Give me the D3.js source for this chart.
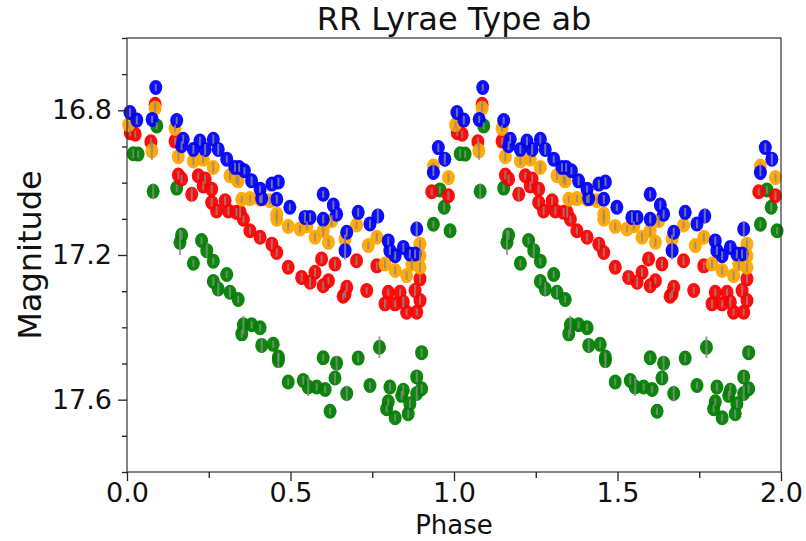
<!DOCTYPE html>
<html>
<head>
<meta charset="utf-8">
<script src="https://cdn.jsdelivr.net/npm/d3@7"></script>
<style>
  body { margin: 0; background: #fff; }
  text { font-family: "DejaVu Sans", sans-serif; fill: #111; }
</style>
</head>
<body>
<svg id="chart" width="806" height="541"></svg>
<script>
// [phase, magnitude, error] for one cycle; drawn again at phase + 1
const blueData = [
  [0.009, 16.806, 0.012], [0.030, 16.827, 0.012], [0.088, 16.737, 0.010], [0.077, 16.825, 0.010],
  [0.152, 16.828, 0.010], [0.172, 16.880, 0.012], [0.167, 16.898, 0.012], [0.203, 16.908, 0.012],
  [0.223, 16.885, 0.012], [0.239, 16.908, 0.015], [0.264, 16.880, 0.012], [0.279, 16.908, 0.015],
  [0.305, 16.935, 0.010], [0.330, 16.958, 0.012], [0.343, 16.958, 0.012], [0.359, 16.967, 0.010],
  [0.381, 16.995, 0.012], [0.407, 17.018, 0.010], [0.412, 17.044, 0.012], [0.443, 17.004, 0.012],
  [0.463, 16.998, 0.012], [0.458, 17.046, 0.012], [0.498, 17.068, 0.010], [0.600, 17.032, 0.010],
  [0.631, 17.062, 0.012], [0.641, 17.087, 0.012], [0.544, 17.096, 0.015], [0.560, 17.096, 0.012],
  [0.600, 17.101, 0.012], [0.667, 17.188, 0.025], [0.672, 17.137, 0.012], [0.707, 17.082, 0.012],
  [0.743, 17.114, 0.012], [0.767, 17.092, 0.022], [0.799, 17.161, 0.012], [0.804, 17.188, 0.012],
  [0.845, 17.179, 0.012], [0.820, 17.202, 0.012], [0.865, 17.197, 0.012], [0.886, 17.128, 0.022],
  [0.881, 17.197, 0.012], [0.952, 16.903, 0.012], [0.972, 16.935, 0.015], [0.937, 16.972, 0.010]
];
const orangeData = [
  [0.005, 16.840, 0.010], [0.086, 16.794, 0.012], [0.076, 16.912, 0.025], [0.147, 16.850, 0.010],
  [0.157, 16.928, 0.012], [0.203, 16.940, 0.012], [0.233, 16.935, 0.012], [0.264, 16.958, 0.015],
  [0.315, 16.981, 0.012], [0.335, 16.990, 0.012], [0.340, 16.995, 0.012], [0.351, 17.046, 0.010],
  [0.376, 17.044, 0.010], [0.407, 17.046, 0.010], [0.437, 17.050, 0.010], [0.458, 17.087, 0.012],
  [0.458, 17.101, 0.012], [0.493, 17.121, 0.012], [0.529, 17.128, 0.010], [0.550, 17.119, 0.012],
  [0.575, 17.151, 0.012], [0.616, 17.165, 0.012], [0.600, 17.133, 0.015], [0.626, 17.105, 0.015],
  [0.667, 17.156, 0.012], [0.702, 17.117, 0.010], [0.764, 17.151, 0.012], [0.738, 17.174, 0.010],
  [0.789, 17.225, 0.012], [0.820, 17.243, 0.012], [0.855, 17.257, 0.012], [0.871, 17.225, 0.015],
  [0.896, 17.170, 0.012], [0.896, 17.202, 0.015], [0.896, 17.234, 0.012], [0.937, 16.954, 0.010],
  [0.983, 16.986, 0.012]
];
const redData = [
  [0.010, 16.862, 0.010], [0.025, 16.866, 0.010], [0.086, 16.783, 0.010], [0.073, 16.887, 0.012],
  [0.147, 16.885, 0.010], [0.157, 16.979, 0.012], [0.167, 16.990, 0.012], [0.198, 17.032, 0.018],
  [0.218, 16.981, 0.010], [0.239, 16.990, 0.012], [0.233, 17.009, 0.012], [0.259, 17.018, 0.012],
  [0.259, 17.055, 0.012], [0.274, 17.078, 0.012], [0.300, 17.050, 0.012], [0.310, 17.078, 0.012],
  [0.335, 17.082, 0.012], [0.346, 17.082, 0.015], [0.356, 17.101, 0.010], [0.376, 17.133, 0.010],
  [0.407, 17.151, 0.012], [0.443, 17.170, 0.015], [0.458, 17.193, 0.012], [0.493, 17.234, 0.010],
  [0.595, 17.211, 0.012], [0.636, 17.225, 0.012], [0.534, 17.262, 0.012], [0.560, 17.275, 0.015],
  [0.575, 17.248, 0.012], [0.600, 17.285, 0.012], [0.616, 17.271, 0.010], [0.672, 17.289, 0.012],
  [0.667, 17.308, 0.010], [0.702, 17.216, 0.012], [0.764, 17.230, 0.012], [0.733, 17.298, 0.010],
  [0.896, 17.266, 0.012], [0.799, 17.303, 0.010], [0.835, 17.303, 0.010], [0.881, 17.298, 0.015],
  [0.789, 17.335, 0.012], [0.820, 17.335, 0.010], [0.845, 17.330, 0.015], [0.896, 17.326, 0.012],
  [0.855, 17.358, 0.010], [0.886, 17.358, 0.010], [0.661, 17.314, 0.010], [0.932, 17.025, 0.010],
  [0.983, 17.036, 0.012]
];
const greenData = [
  [0.019, 16.920, 0.012], [0.034, 16.921, 0.010], [0.091, 16.843, 0.010], [0.080, 17.024, 0.022],
  [0.152, 17.015, 0.010], [0.167, 17.145, 0.012], [0.162, 17.165, 0.035], [0.203, 17.223, 0.010],
  [0.228, 17.160, 0.010], [0.244, 17.188, 0.018], [0.264, 17.217, 0.010], [0.305, 17.254, 0.010],
  [0.264, 17.273, 0.012], [0.279, 17.294, 0.018], [0.315, 17.303, 0.015], [0.340, 17.323, 0.010],
  [0.356, 17.393, 0.025], [0.351, 17.418, 0.012], [0.381, 17.393, 0.010], [0.407, 17.401, 0.010],
  [0.412, 17.450, 0.018], [0.447, 17.447, 0.010], [0.463, 17.482, 0.012], [0.463, 17.492, 0.020],
  [0.493, 17.551, 0.010], [0.600, 17.484, 0.010], [0.641, 17.499, 0.020], [0.707, 17.485, 0.012],
  [0.772, 17.455, 0.030], [0.901, 17.470, 0.012], [0.539, 17.547, 0.012], [0.554, 17.565, 0.025],
  [0.580, 17.565, 0.010], [0.606, 17.572, 0.010], [0.636, 17.540, 0.015], [0.672, 17.583, 0.022],
  [0.621, 17.632, 0.010], [0.743, 17.561, 0.010], [0.804, 17.565, 0.012], [0.840, 17.588, 0.012],
  [0.845, 17.574, 0.015], [0.886, 17.537, 0.015], [0.886, 17.583, 0.020], [0.901, 17.570, 0.012],
  [0.799, 17.606, 0.010], [0.794, 17.625, 0.010], [0.865, 17.611, 0.012], [0.820, 17.650, 0.010],
  [0.860, 17.639, 0.012], [0.957, 17.020, 0.010], [0.970, 17.068, 0.012], [0.937, 17.115, 0.010],
  [0.988, 17.133, 0.010]
];
const seriesNames = ["green", "red", "orange", "blue"];
const seriesColors = ["#008000", "#ff0000", "#ffa500", "#0000ff"];
const seriesData = [greenData, redData, orangeData, blueData];
const xTicks = [0.0, 0.5, 1.0, 1.5, 2.0];
const yTicks = [16.8, 17.2, 17.6];

const svg = d3.select("#chart");
const margin = { left: 127, right: 781, top: 38, bottom: 472 };

const x = d3.scaleLinear().domain([0, 2]).range([margin.left, margin.right]);
const y = d3.scaleLinear().domain([16.6, 17.8]).range([margin.top, margin.bottom]);

// points repeated over two cycles
const pts = [];
seriesData.forEach((arr, i) => {
  [0, 1].forEach(shift => {
    arr.forEach(d => pts.push({ s: i, p: d[0] + shift, m: d[1], e: d[2] }));
  });
});

const plot = svg.append("g");
plot.selectAll("ellipse")
  .data(pts)
  .join("ellipse")
  .attr("cx", d => x(d.p))
  .attr("cy", d => y(d.m))
  .attr("rx", 6.5)
  .attr("ry", 7.5)
  .attr("fill", d => seriesColors[d.s])
  .attr("fill-opacity", 0.95);

plot.selectAll("line.err")
  .data(pts)
  .join("line")
  .attr("class", "err")
  .attr("x1", d => x(d.p))
  .attr("x2", d => x(d.p))
  .attr("y1", d => y(d.m - d.e))
  .attr("y2", d => y(d.m + d.e))
  .attr("stroke", "#8a8a8a")
  .attr("stroke-width", 2)
  .attr("opacity", 0.8);

// frame
svg.append("rect")
  .attr("x", margin.left).attr("y", margin.top)
  .attr("width", margin.right - margin.left).attr("height", margin.bottom - margin.top)
  .attr("fill", "none").attr("stroke", "#333").attr("stroke-width", 1.2);

// axes
svg.append("g").attr("transform", `translate(0,${margin.bottom})`)
  .call(d3.axisBottom(x).tickValues(xTicks).tickFormat(d3.format(".1f")).tickSize(9).tickPadding(2));
svg.append("g").attr("transform", `translate(0,${margin.bottom})`)
  .call(d3.axisBottom(x).tickValues(d3.range(0.25, 2, 0.5)).tickFormat("").tickSize(6));
svg.append("g").attr("transform", `translate(${margin.left},0)`)
  .call(d3.axisLeft(y).tickValues(yTicks).tickFormat(d3.format(".1f")).tickSize(9).tickPadding(6));
svg.append("g").attr("transform", `translate(${margin.left},0)`)
  .call(d3.axisLeft(y).tickValues(d3.range(16.6, 17.81, 0.1).filter(v => !yTicks.some(t => Math.abs(t - v) < 1e-6))).tickFormat("").tickSize(5));

svg.selectAll(".domain").remove();
svg.selectAll(".tick line").attr("stroke", "#222").attr("stroke-width", 1.3);
svg.selectAll(".tick text").style("font-size", "27px").style("font-family", "DejaVu Sans, sans-serif").attr("fill", "#111");

svg.append("text")
  .attr("x", (margin.left + margin.right) / 2).attr("y", 30)
  .attr("text-anchor", "middle")
  .style("font-size", "32px")
  .text("RR Lyrae Type ab");

svg.append("text")
  .attr("x", (margin.left + margin.right) / 2).attr("y", 534)
  .attr("text-anchor", "middle")
  .style("font-size", "26px")
  .text("Phase");

svg.append("text")
  .attr("transform", `translate(41,${(margin.top + margin.bottom) / 2}) rotate(-90)`)
  .attr("text-anchor", "middle")
  .style("font-size", "32px")
  .text("Magnitude");
</script>
</body>
</html>
